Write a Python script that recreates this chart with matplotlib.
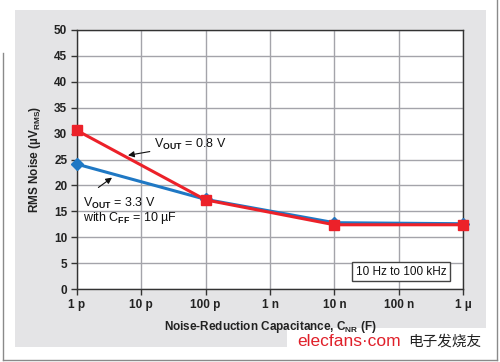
import matplotlib
matplotlib.use('Agg')
import matplotlib.pyplot as plt
import matplotlib.patches as patches
from matplotlib.lines import Line2D

# Data
cap_values = [1e-12, 1e-10, 1e-8, 1e-6]
noise_08v = [30.6, 17.2, 12.4, 12.4]
noise_33v = [24.1, 17.3, 12.8, 12.6]

x_ticks = [1e-12, 1e-11, 1e-10, 1e-9, 1e-8, 1e-7, 1e-6]
x_tick_labels = ['1 p', '10 p', '100 p', '1 n', '10 n', '100 n', '1 µ']
y_ticks = [0, 5, 10, 15, 20, 25, 30, 35, 40, 45, 50]

plt.rcParams['font.family'] = ['Liberation Sans', 'DejaVu Sans']
plt.rcParams['mathtext.fontset'] = 'custom'
plt.rcParams['mathtext.rm'] = 'Liberation Sans'
plt.rcParams['mathtext.bf'] = 'Liberation Sans:bold'

fig = plt.figure(figsize=(5.0, 3.62), dpi=100)
fig.patch.set_facecolor('white')

# Gray panel behind the chart
fig.patches.append(patches.Rectangle((15 / 500, 15 / 362), 471 / 500, 337 / 362,
                                     transform=fig.transFigure, facecolor='#e4e4e6',
                                     edgecolor='none', zorder=-5))
# Outer frame lines
frame_col = '#8a8a8a'
fig.add_artist(Line2D([3 / 500, 3 / 500], [2 / 362, 309 / 362], color=frame_col, lw=1))
fig.add_artist(Line2D([3 / 500, 497 / 500], [2 / 362, 2 / 362], color=frame_col, lw=1))
fig.add_artist(Line2D([497 / 500, 497 / 500], [2 / 362, 1.0], color=frame_col, lw=1))

ax = fig.add_axes([77 / 500, 73 / 362, 386 / 500, 259 / 362])
ax.set_zorder(3)
ax.set_facecolor('white')
ax.set_xscale('log')
ax.set_xlim(1e-12, 1e-6)
ax.set_ylim(0, 50)
ax.set_xticks(x_ticks)
ax.set_xticklabels(x_tick_labels)
ax.minorticks_off()
ax.set_yticks(y_ticks)
ax.grid(True, color='#a4a4aa', linewidth=1.0)
ax.set_axisbelow(True)
for s in ax.spines.values():
    s.set_color('#333333')
    s.set_linewidth(1.0)
ax.tick_params(direction='out', length=4, width=1, color='#333333',
               labelsize=8.5, labelcolor='#222222', pad=3)
for lbl in ax.get_xticklabels() + ax.get_yticklabels():
    lbl.set_fontweight('bold')

ax.plot(cap_values, noise_33v, color='#1f78c4', lw=2.2, marker='D',
        markersize=6, zorder=3, clip_on=False)
ax.plot(cap_values, noise_08v, color='#ec2129', lw=2.2, marker='s',
        markersize=7, zorder=4, clip_on=False)

ax.set_xlabel(r'Noise-Reduction Capacitance, C$_{\mathbf{NR}}$ (F)',
              fontsize=8.5, fontweight='bold', color='#222222', labelpad=6)
ax.set_ylabel(r'RMS Noise (µV$_{\mathbf{RMS}}$)',
              fontsize=8.5, fontweight='bold', color='#222222', labelpad=8)

# Annotations
ax.annotate(r'V$_{\mathbf{OUT}}$ = 0.8 V', xy=(6.2e-12, 25.8), xytext=(1.57e-11, 27.9),
            fontsize=9, color='#111111', va='center', ha='left',
            arrowprops=dict(arrowstyle='-|>', color='#111111', lw=0.8,
                            mutation_scale=9, shrinkA=1, shrinkB=0))
ax.annotate('', xy=(3.5e-12, 21.5), xytext=(2.15e-12, 19.6),
            arrowprops=dict(arrowstyle='-|>', color='#111111', lw=0.8,
                            mutation_scale=9, shrinkA=0, shrinkB=0))
ax.text(1.25e-12, 16.6, r'V$_{\mathbf{OUT}}$ = 3.3 V', fontsize=9,
        color='#111111', va='center', ha='left')
ax.text(1.25e-12, 13.8, r'with C$_{\mathbf{FF}}$ = 10 µF', fontsize=9,
        color='#111111', va='center', ha='left')

ax.text(0.839, 0.066, '10 Hz to 100 kHz', transform=ax.transAxes, fontsize=8.5,
        ha='center', va='center', color='#111111',
        bbox=dict(boxstyle='square,pad=0.3', facecolor='white',
                  edgecolor='#444444', linewidth=1))

# Watermark strip
fig.patches.append(patches.Rectangle((287 / 500, 14 / 362), 210 / 500, 20 / 362,
                                     transform=fig.transFigure, facecolor='white',
                                     edgecolor='none', zorder=1))
fig.text(297 / 500, 20 / 362, 'elecfans·com', fontsize=12.5, color='#e0202a',
         ha='left', va='center', zorder=2)
fig.text(408 / 500, 20 / 362, '电子发烧友', fontsize=10.5, color='#222222',
         ha='left', va='center', family=['Noto Sans CJK SC', 'DejaVu Sans'], zorder=2)

fig.savefig('out.png', dpi=100)
